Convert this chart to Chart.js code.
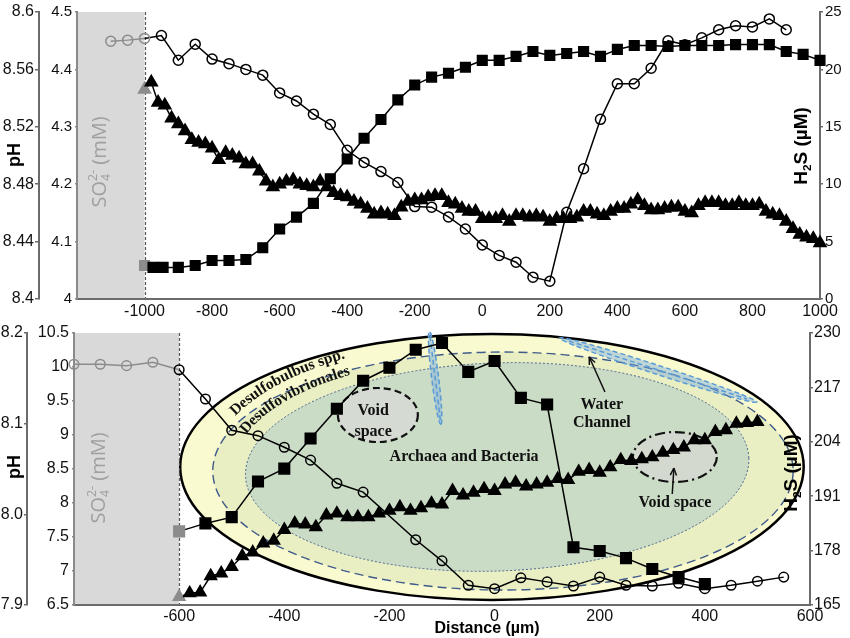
<!DOCTYPE html>
<html>
<head>
<meta charset="utf-8">
<title>Microprofiles</title>
<script src="https://cdn.jsdelivr.net/npm/chart.js@4.4.1/dist/chart.umd.min.js"></script>
<style>
html,body{margin:0;padding:0;background:#fff;overflow:hidden;}
#wrap{position:relative;width:850px;height:638px;}
canvas{position:absolute;left:0;display:block;}
#top{top:0;width:850px;height:320px;}
#bot{top:320px;width:850px;height:318px;}
</style>
</head>
<body>
<div id="wrap">
<canvas id="top" width="850" height="320"></canvas>
<canvas id="bot" width="850" height="318"></canvas>
</div>
<script>
// ---------------- DATA: top panel ----------------
const topXTicks  = [-1000,-800,-600,-400,-200,0,200,400,600,800,1000];
const topXLabels = ['-1000','-800','-600','-400','-200','0','200','400','600','800','1000'];
const topPhTicks  = [8.4,8.44,8.48,8.52,8.56,8.6];
const topPhLabels = ['8.4','8.44','8.48','8.52','8.56','8.6'];
const topSO4Ticks  = [4,4.1,4.2,4.3,4.4,4.5];
const topSO4Labels = ['4','4.1','4.2','4.3','4.4','4.5'];
const topH2STicks  = [0,5,10,15,20,25];
const topH2SLabels = ['0','5','10','15','20','25'];

// open circles (SO4, mM)
const topSO4X = [-1100,-1050,-1000,-950,-900,-850,-800,-750,-700,-650,-600,-550,-500,-450,-400,-350,-300,-250,-200,-150,-100,-50,0,50,100,150,200,250,300,350,400,450,500,550,600,650,700,750,800,850,900];
const topSO4  = [4.449,4.451,4.454,4.459,4.416,4.444,4.418,4.410,4.400,4.390,4.359,4.345,4.322,4.304,4.259,4.238,4.222,4.203,4.161,4.160,4.143,4.122,4.094,4.076,4.064,4.038,4.031,4.151,4.227,4.313,4.375,4.375,4.402,4.450,4.443,4.455,4.469,4.476,4.474,4.488,4.469];
// filled squares (H2S, uM)
const topH2SX = [-1000,-975,-945,-900,-850,-800,-750,-700,-650,-600,-550,-500,-450,-400,-350,-300,-250,-200,-150,-100,-50,0,50,100,150,200,250,300,350,400,450,500,550,600,650,700,750,800,850,900,950,1000];
const topH2S  = [2.92,2.75,2.75,2.75,2.92,3.35,3.35,3.44,4.47,6.10,7.13,8.33,10.48,12.20,14.00,15.64,17.35,18.64,19.33,19.67,20.19,20.79,20.79,21.13,21.56,21.22,21.39,21.56,21.13,21.74,22.08,22.08,21.99,22.08,22.08,22.08,22.16,22.16,22.16,21.56,21.31,20.79];
// filled triangles (pH)
const topPhX = [-1000,-980,-960,-940,-920,-900,-880,-860,-840,-820,-800,-780,-760,-740,-720,-700,-680,-660,-640,-620,-600,-580,-560,-540,-520,-500,-480,-460,-440,-420,-400,-380,-360,-340,-320,-300,-280,-260,-240,-220,-200,-180,-160,-140,-120,-100,-80,-60,-40,-20,0,20,40,60,80,100,120,140,160,180,200,220,240,260,280,300,320,340,360,380,400,420,440,460,480,500,520,540,560,580,600,620,640,660,680,700,720,740,760,780,800,820,840,860,880,900,920,940,960,980,1000];
const topPH  = [8.546,8.551,8.537,8.535,8.526,8.522,8.517,8.511,8.509,8.508,
                8.505,8.497,8.502,8.500,8.498,8.494,8.494,8.489,8.482,8.478,
                8.480,8.482,8.483,8.480,8.479,8.478,8.482,8.478,8.474,8.472,
                8.471,8.468,8.466,8.463,8.459,8.460,8.459,8.458,8.464,8.468,
                8.469,8.469,8.471,8.472,8.472,8.467,8.466,8.463,8.461,8.461,
                8.456,8.456,8.456,8.458,8.454,8.458,8.458,8.457,8.458,8.457,
                8.454,8.456,8.456,8.456,8.457,8.461,8.461,8.459,8.458,8.461,
                8.463,8.463,8.466,8.469,8.465,8.462,8.462,8.463,8.464,8.464,
                8.461,8.460,8.465,8.467,8.467,8.467,8.465,8.465,8.467,8.465,
                8.465,8.466,8.461,8.459,8.458,8.454,8.449,8.445,8.443,8.442,
                8.439];

// ---------------- DATA: bottom panel ----------------
const botXTicks  = [-600,-400,-200,0,200,400,600];
const botXLabels = ['-600','-400','-200','0','200','400','600'];
const botPhTicks  = [7.9,8.0,8.1,8.2];
const botPhLabels = ['7.9','8.0','8.1','8.2'];
const botSO4Ticks  = [6.5,7,7.5,8,8.5,9,9.5,10,10.5];
const botSO4Labels = ['6.5','7','7.5','8','8.5','9','9.5','10','10.5'];
const botH2STicks  = [165,178,191,204,217,230];
const botH2SLabels = ['165','178','191','204','217','230'];

const botSO4X = [-800,-750,-700,-650,-600,-550,-500,-450,-400,-350,-300,-250,-150,-100,-50,0,50,100,150,200,250,300,350,400,450,500,550];
const botSO4  = [10.04,10.04,10.02,10.07,9.96,9.53,9.07,8.99,8.82,8.63,8.29,8.16,7.46,7.15,6.79,6.74,6.90,6.84,6.78,6.91,6.79,6.78,6.82,6.74,6.79,6.85,6.91];
const botH2SX = [-600,-550,-500,-450,-400,-350,-300,-250,-200,-150,-100,-50,0,50,100,150,200,250,300,350,400];
const botH2S  = [182.6,184.5,186.0,194.5,197.6,204.8,211.9,218.6,221.7,226.0,227.6,220.7,223.3,214.5,212.9,178.8,177.9,176.2,173.6,171.7,170.0];
const botPhX = [-600,-580,-560,-540,-520,-500,-480,-460,-440,-420,-400,-380,-360,-340,-320,-300,-280,-260,-240,-220,-200,-180,-160,-140,-120,-100,-80,-60,-40,-20,0,20,40,60,80,100,120,140,160,180,200,220,240,260,280,300,320,340,360,380,400,420,440,460,480,500];
const botPH  = [7.909,7.913,7.914,7.932,7.935,7.942,7.954,7.958,7.968,7.971,
                7.983,7.990,7.989,7.986,7.999,8.001,7.997,7.997,7.997,8.001,
                8.004,8.008,8.004,8.007,8.012,8.011,8.026,8.021,8.024,8.028,
                8.026,8.033,8.035,8.031,8.033,8.035,8.039,8.038,8.047,8.049,
                8.046,8.052,8.060,8.059,8.061,8.063,8.068,8.071,8.074,8.082,
                8.082,8.091,8.093,8.100,8.101,8.102];

// ---------------- helpers ----------------
const FONT  = '"Liberation Sans", Arial, sans-serif';
const SERIF = '"Liberation Serif", "Times New Roman", serif';
const GRAY  = '#8c8c8c';
const AXIS  = '#6b6b6b';

function fixedTicks(vals){ return s => { s.ticks = vals.map(v => ({value: v})); }; }
function lbl(labels){ return (v, i) => labels[i]; }

function series(xs, ys, axis, style, r, pointLim, segLim, filled){
  return {
    data: xs.map((x, i) => ({x: x, y: ys[i]})),
    yAxisID: axis,
    borderColor: '#000', borderWidth: 1.5, tension: 0, fill: false, clip: false,
    pointStyle: style, pointRadius: r, pointHoverRadius: r, pointBorderWidth: 1.5,
    pointBorderColor: c => (c.raw && c.raw.x <= pointLim) ? GRAY : '#000',
    pointBackgroundColor: filled ? (c => (c.raw && c.raw.x <= pointLim) ? GRAY : '#000') : 'rgba(0,0,0,0)',
    segment: { borderColor: c => c.p1.parsed.x <= segLim ? GRAY : undefined }
  };
}

function yScale(pos, weight, min, max, ticks, labels, width, lineColor, size, tl, pad){
  return {
    type: 'linear', position: pos, weight: weight, min: min, max: max,
    afterBuildTicks: fixedTicks(ticks),
    afterFit: s => { s.width = width; },
    grid: { display: true, drawOnChartArea: false, drawTicks: true, tickLength: tl, color: lineColor, lineWidth: 1.5 },
    border: { display: true, color: lineColor, width: 2 },
    ticks: { font: {family: FONT, size: size}, color: '#111', padding: pad, callback: lbl(labels) }
  };
}

function rotRich(ctx, cx, cy, parts, color, size, weight, family){
  ctx.save();
  ctx.translate(cx, cy); ctx.rotate(-Math.PI / 2);
  ctx.fillStyle = color; ctx.textBaseline = 'alphabetic'; ctx.textAlign = 'left';
  const f = s => weight + ' ' + s + 'px ' + family;
  let total = 0; const ws = [];
  parts.forEach(p => {
    ctx.font = f(p.s ? size * 0.62 : size);
    const w = p.stack ? Math.max.apply(null, p.stack.map(t => ctx.measureText(t).width)) : ctx.measureText(p.t).width;
    ws.push(w); total += w;
  });
  let x = -total / 2; const base = size * 0.36;
  parts.forEach((p, i) => {
    ctx.font = f(p.s ? size * 0.62 : size);
    if (p.stack) {
      ctx.fillText(p.stack[0], x, base + size * 0.2);
      ctx.fillText(p.stack[1], x, base - size * 0.48);
    } else {
      ctx.fillText(p.t, x, base + (p.dy || 0) * size);
    }
    x += ws[i];
  });
  ctx.restore();
}

function rotText(ctx, cx, cy, t, font, color){
  ctx.save(); ctx.translate(cx, cy); ctx.rotate(-Math.PI / 2);
  ctx.font = font; ctx.fillStyle = color; ctx.textAlign = 'center'; ctx.textBaseline = 'middle';
  ctx.fillText(t, 0, 0); ctx.restore();
}

function grayZone(chart, xMin, xLim){
  const {ctx, chartArea: ca} = chart;
  const xs = chart.scales.x;
  const a = xs.getPixelForValue(xMin), b = xs.getPixelForValue(xLim);
  ctx.save();
  ctx.fillStyle = '#d9d9d9';
  ctx.fillRect(a, ca.top, b - a, ca.bottom - ca.top);
  ctx.restore();
}
function grayEdge(chart, xLim){
  const {ctx, chartArea: ca} = chart;
  const b = Math.round(chart.scales.x.getPixelForValue(xLim)) + 0.5;
  ctx.save();
  ctx.strokeStyle = '#555'; ctx.lineWidth = 1.2; ctx.setLineDash([3, 2]);
  ctx.beginPath(); ctx.moveTo(b, ca.top); ctx.lineTo(b, ca.bottom); ctx.stroke();
  ctx.restore();
}

// ---------------- TOP CHART ----------------
const topPlugin = {
  id: 'topDeco',
  beforeDraw(chart){ grayZone(chart, -1200, -1000); grayEdge(chart, -1000); },
  afterDraw(chart){
    const ctx = chart.ctx, ca = chart.chartArea;
    rotText(ctx, 15, 155, 'pH', 'bold 18px ' + FONT, '#000');
    rotRich(ctx, ca.left + 22, 162, [{t:'SO'}, {s:1, stack:['4','2-']}, {t:' (mM)'}], '#a0a0a0', 20, 'normal', '"Open Sans", ' + FONT);
    rotRich(ctx, ca.right - 20, 146, [{t:'H'}, {s:1, t:'2', dy:0.2}, {t:'S (\u00b5M)'}], '#000', 19, 'bold', FONT);
  }
};

new Chart(document.getElementById('top'), {
  type: 'line',
  data: { datasets: [
    series(topSO4X, topSO4, 'ySO4', 'circle', 5, -1000, -1000, false),
    series(topH2SX, topH2S, 'yH2S', 'rect', 6.8, -1000, -1000, true),
    series(topPhX, topPH, 'yPH', 'triangle', 7, -1000, -1000, true)
  ]},
  options: {
    responsive: false, animation: false, devicePixelRatio: 1,
    layout: { autoPadding: false, padding: {top: 8, right: 0, bottom: 0, left: 0} },
    plugins: { legend: {display: false}, tooltip: {enabled: false} },
    scales: {
      x: {
        type: 'linear', position: 'bottom', min: -1200, max: 1000,
        afterBuildTicks: fixedTicks(topXTicks),
        afterFit: s => { s.height = 21; },
        grid: { display: false, drawTicks: false },
        border: { display: true, color: AXIS, width: 2 },
        ticks: { font: {family: FONT, size: 16}, color: '#111', padding: 3, maxRotation: 0, autoSkip: false, callback: lbl(topXLabels) }
      },
      yPH:  yScale('left', 2, 8.4, 8.6, topPhTicks, topPhLabels, 39, AXIS, 16, 4, 1),
      ySO4: yScale('left', 1, 4, 4.5, topSO4Ticks, topSO4Labels, 38, '#8a8a8a', 15, 2, 3),
      yH2S: yScale('right', 1, 0, 25, topH2STicks, topH2SLabels, 30, AXIS, 15, 3, 2)
    }
  },
  plugins: [topPlugin]
});

// ---------------- BOTTOM CHART ----------------
// illustration anchors in data units (x: distance, y: SO4 axis)
const ELL_OUTER  = {cx: -5, cy: 8.53, rx: 593, ry: 1.956};
const ELL_DASH   = {cx: 16, cy: 8.47, rx: 552, ry: 1.75};
const ELL_DOT    = {cx: 5,  cy: 8.53, rx: 479, ry: 1.53, rot: -2};

function drawIllustration(chart){
  const ctx = chart.ctx;
  const xs = chart.scales.x, ys = chart.scales.ySO4;
  const px = v => xs.getPixelForValue(v), py = v => ys.getPixelForValue(v);
  const kx = Math.abs(px(1) - px(0)), ky = Math.abs(py(1) - py(0));
  const ell = e => { ctx.beginPath(); ctx.ellipse(px(e.cx), py(e.cy), e.rx * kx, e.ry * ky, (e.rot || 0) * Math.PI / 180, 0, 2 * Math.PI); };
  ctx.save();
  ell(ELL_OUTER); ctx.fillStyle = '#fafad0'; ctx.fill();
  ell(ELL_DASH);  ctx.fillStyle = '#e9efc3'; ctx.fill();
  ell(ELL_DOT);   ctx.fillStyle = '#cbdcc6'; ctx.fill();
  ctx.setLineDash([2, 2]); ctx.strokeStyle = '#4a6591'; ctx.lineWidth = 1; ctx.stroke();
  ell(ELL_DASH);  ctx.setLineDash([9, 5]); ctx.lineWidth = 1.4; ctx.strokeStyle = '#3f5b8a'; ctx.stroke();
  ell(ELL_OUTER); ctx.setLineDash([]); ctx.strokeStyle = '#000'; ctx.lineWidth = 2.5; ctx.stroke();

  // void spaces
  function cloud(cx, cy, rxp, ryp, dash, fill){
    ctx.beginPath(); ctx.ellipse(px(cx), py(cy), rxp, ryp, 0, 0, 2 * Math.PI);
    ctx.fillStyle = fill; ctx.fill();
    ctx.setLineDash(dash); ctx.strokeStyle = '#111'; ctx.lineWidth = 2.2; ctx.stroke();
  }
  cloud(-222, 9.294, 40, 27, [7, 4], '#d5dbd2');
  cloud(343, 8.676, 42, 25, [10, 4, 2, 4], '#d3d9cf');

  // water channels
  function streak(cx, cy, halfLen, halfW, ang){
    ctx.save(); ctx.translate(px(cx), py(cy)); ctx.rotate(ang * Math.PI / 180);
    ctx.beginPath(); ctx.ellipse(0, 0, halfLen, halfW, 0, 0, 2 * Math.PI);
    ctx.fillStyle = 'rgba(120,170,225,0.45)'; ctx.fill();
    ctx.setLineDash([5, 3]); ctx.strokeStyle = '#5b9bd5'; ctx.lineWidth = 1.5; ctx.stroke();
    ctx.beginPath(); ctx.moveTo(-halfLen * 0.9, 0); ctx.lineTo(halfLen * 0.9, 0); ctx.stroke();
    ctx.restore();
  }
  streak(-113, 9.838, 47, 3.5, 83);
  streak(311, 9.956, 104, 4.5, 18);
  ctx.setLineDash([]);

  // curved labels
  function textOnEllipse(text, cx, cy, rxU, ryU, startDeg, font){
    const X = px(cx), Y = py(cy), rx = rxU * kx, ry = ryU * ky;
    ctx.font = font; ctx.fillStyle = '#111'; ctx.textAlign = 'center'; ctx.textBaseline = 'middle';
    let th = startDeg * Math.PI / 180;
    const adv = (t, d) => { let acc = 0; const dt = 0.0005; while (acc < d) { acc += Math.hypot(rx * Math.sin(t) * dt, ry * Math.cos(t) * dt); t += dt; } return t; };
    for (const ch of text) {
      const w = ctx.measureText(ch).width;
      th = adv(th, w / 2);
      const x = X + rx * Math.cos(th), y = Y + ry * Math.sin(th);
      const ang = Math.atan2(ry * Math.cos(th), -rx * Math.sin(th));
      ctx.save(); ctx.translate(x, y); ctx.rotate(ang); ctx.fillText(ch, 0, 0); ctx.restore();
      th = adv(th, w / 2);
    }
  }
  textOnEllipse('Desulfobulbus spp.', -5, 8.53, 540, 1.94, 204, 'bold 15.5px ' + SERIF);
  textOnEllipse('Desulfovibrionales', -5, 8.53, 497, 1.687, 197.8, 'bold 15.5px ' + SERIF);

  function label(t, x, y){
    ctx.font = 'bold 16px ' + SERIF; ctx.fillStyle = '#111'; ctx.textAlign = 'center'; ctx.textBaseline = 'middle';
    ctx.fillText(t, px(x), py(y));
  }
  label('Void', -231, 9.353); label('space', -231, 9.044);
  label('Archaea and Bacteria', -58, 8.676);
  label('Water', 204, 9.44); label('Channel', 204, 9.176);
  label('Void space', 343, 8.0);

  function arrow(x1, y1, x2, y2){
    const a = px(x1), b = py(y1), c = px(x2), d = py(y2);
    const ang = Math.atan2(d - b, c - a);
    ctx.strokeStyle = '#111'; ctx.fillStyle = '#111'; ctx.lineWidth = 1.5;
    ctx.beginPath(); ctx.moveTo(a, b); ctx.lineTo(c, d); ctx.stroke();
    ctx.beginPath(); ctx.moveTo(c, d);
    ctx.lineTo(c - 8 * Math.cos(ang - 0.4), d - 8 * Math.sin(ang - 0.4));
    ctx.moveTo(c, d);
    ctx.lineTo(c - 8 * Math.cos(ang + 0.4), d - 8 * Math.sin(ang + 0.4));
    ctx.stroke();
  }
  arrow(210, 9.632, 180, 10.147);
  arrow(338, 8.132, 341, 8.515);
  ctx.restore();
}

const botPlugin = {
  id: 'botDeco',
  beforeDraw(chart){
    grayZone(chart, -800, -600);
    drawIllustration(chart);
    grayEdge(chart, -600);
  },
  afterDraw(chart){
    const ctx = chart.ctx, ca = chart.chartArea;
    rotText(ctx, 15, 147, 'pH', 'bold 18px ' + FONT, '#000');
    rotRich(ctx, ca.left + 24, 158, [{t:'SO'}, {s:1, stack:['4','2-']}, {t:' (mM)'}], '#a0a0a0', 20, 'normal', '"Open Sans", ' + FONT);
    rotRich(ctx, ca.right - 20, 153, [{t:'H'}, {s:1, t:'2', dy:0.2}, {t:'S (\u00b5M)'}], '#000', 19, 'bold', FONT);
    ctx.save();
    ctx.font = 'bold 16px ' + FONT; ctx.fillStyle = '#000'; ctx.textAlign = 'center'; ctx.textBaseline = 'middle';
    ctx.fillText('Distance (\u00b5m)', 487, 309);
    ctx.restore();
  }
};

new Chart(document.getElementById('bot'), {
  type: 'line',
  data: { datasets: [
    series(botSO4X, botSO4, 'ySO4', 'circle', 4.8, -650, -600, false),
    series(botH2SX, botH2S, 'yH2S', 'rect', 7.5, -600, -600, true),
    series(botPhX, botPH, 'yPH', 'triangle', 6.8, -600, -600, true)
  ]},
  options: {
    responsive: false, animation: false, devicePixelRatio: 1,
    layout: { autoPadding: false, padding: {top: 13, right: 0, bottom: 0, left: 0} },
    plugins: { legend: {display: false}, tooltip: {enabled: false} },
    scales: {
      x: {
        type: 'linear', position: 'bottom', min: -800, max: 600,
        afterBuildTicks: fixedTicks(botXTicks),
        afterFit: s => { s.height = 33; },
        grid: { display: false, drawTicks: false },
        border: { display: true, color: AXIS, width: 2 },
        ticks: { font: {family: FONT, size: 16}, color: '#111', padding: 2, maxRotation: 0, autoSkip: false, callback: lbl(botXLabels) }
      },
      yPH:  yScale('left', 2, 7.9, 8.2, botPhTicks, botPhLabels, 27, AXIS, 16, 3, 1),
      ySO4: yScale('left', 1, 6.5, 10.5, botSO4Ticks, botSO4Labels, 47, '#8a8a8a', 16, 2, 3),
      yH2S: yScale('right', 1, 165, 230, botH2STicks, botH2SLabels, 40, AXIS, 16, 3, 1)
    }
  },
  plugins: [botPlugin]
});
</script>
</body>
</html>
